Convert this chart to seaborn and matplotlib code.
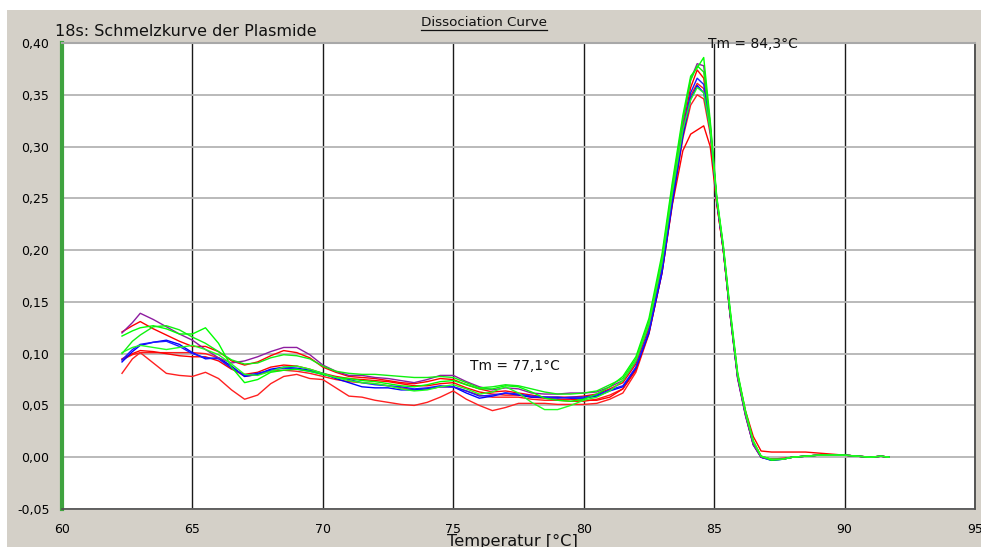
import matplotlib
matplotlib.use("Agg")
import matplotlib.pyplot as plt
from matplotlib.patches import Rectangle
from matplotlib.lines import Line2D
import numpy as np
import pandas as pd
import seaborn as sns

# Temperature grid of the melt run (°C)
temps_low = [62.3, 62.7, 63.0, 63.5, 64.0, 64.5, 65.0, 65.5, 66.0, 66.5, 67.0, 67.5,
             68.0, 68.5, 69.0, 69.5, 70.0, 70.5, 71.0, 71.5, 72.0, 72.5, 73.0, 73.5,
             74.0, 74.5, 75.0, 75.5, 76.0, 76.5, 77.0, 77.5, 78.0, 78.5, 79.0, 79.5,
             80.0, 80.5, 81.0]
temps_peak = [81.5, 82.0, 82.5, 83.0, 83.4, 83.8, 84.1, 84.35, 84.6, 84.85, 85.1, 85.35,
              85.6, 85.9, 86.2, 86.5, 86.8, 87.2, 87.6, 88.0, 88.5, 89.0, 89.5, 90.0,
              90.5, 91.0, 91.4, 91.7]

# -dF/dT per well
purple = [.120, .130, .139, .133, .126, .119, .113, .104, .096, .091, .093, .097, .102, .106,
          .106, .099, .089, .083, .079, .079, .077, .076, .074, .072, .075, .079, .079, .073,
          .068, .065, .067, .066, .062, .061, .061, .062, .062, .063, .068,
          .074, .092, .128, .188, .258, .322, .365, .380, .378, .320, .248, .201, .140, .076,
          .040, .012, .000, -.002, -.002, .000, .001, .002, .002, .002, .001, .000, .001, .000]
red1 = [.121, .127, .131, .124, .118, .112, .107, .107, .102, .093, .089, .092, .098, .103,
        .101, .096, .087, .082, .078, .077, .076, .074, .072, .071, .073, .076, .075, .070,
        .066, .063, .064, .062, .060, .058, .058, .058, .059, .061, .066,
        .072, .090, .125, .185, .254, .318, .357, .374, .366, .318, .248, .202, .142, .078,
        .042, .013, .000, -.002, -.002, .000, .001, .002, .002, .002, .001, .000, .001, .000]
green1 = [.117, .122, .125, .127, .124, .119, .119, .125, .110, .087, .072, .075, .082, .084,
          .085, .083, .080, .077, .076, .074, .073, .071, .069, .068, .070, .073, .074, .070,
          .066, .066, .069, .068, .063, .057, .055, .054, .056, .061, .068,
          .078, .097, .134, .196, .266, .330, .368, .376, .386, .325, .252, .205, .146, .082,
          .045, .016, .001, -.003, -.002, .000, .001, .002, .002, .002, .001, .000, .001, .000]
green2 = [.100, .112, .118, .126, .127, .123, .116, .110, .102, .094, .090, .091, .096, .099,
          .098, .095, .088, .083, .081, .080, .080, .079, .078, .077, .077, .078, .077, .072,
          .067, .068, .070, .069, .066, .063, .061, .061, .062, .064, .070,
          .076, .095, .131, .192, .262, .326, .364, .378, .372, .322, .250, .203, .143, .080,
          .044, .015, .001, -.002, -.002, .000, .001, .002, .002, .002, .001, .000, .001, .000]
green3 = [.101, .106, .108, .106, .104, .106, .108, .104, .099, .090, .080, .079, .083, .087,
          .088, .085, .081, .077, .074, .072, .071, .069, .066, .064, .065, .068, .070, .066,
          .061, .063, .068, .062, .053, .046, .046, .050, .055, .058, .064,
          .074, .093, .128, .188, .256, .316, .345, .357, .352, .316, .250, .204, .144, .080,
          .043, .015, .001, -.002, -.002, .000, .001, .002, .002, .002, .001, .000, .001, .000]
blue1 = [.092, .102, .108, .111, .113, .109, .101, .095, .096, .088, .078, .080, .085, .087,
         .086, .084, .081, .076, .072, .068, .067, .067, .065, .065, .066, .068, .068, .062,
         .057, .059, .062, .060, .058, .058, .058, .057, .057, .059, .064,
         .068, .086, .120, .178, .246, .310, .346, .359, .352, .316, .248, .202, .142, .078,
         .042, .013, .000, -.003, -.002, .000, .001, .002, .002, .002, .001, .000, .001, .000]
blue2 = [.094, .104, .109, .111, .112, .107, .100, .096, .095, .086, .079, .081, .084, .086,
         .085, .083, .080, .077, .075, .072, .070, .069, .068, .066, .067, .069, .068, .064,
         .059, .060, .062, .061, .059, .058, .057, .058, .058, .060, .065,
         .069, .087, .122, .181, .250, .314, .352, .366, .360, .318, .248, .201, .141, .077,
         .041, .012, .000, -.003, -.002, .000, .001, .002, .002, .002, .001, .000, .001, .000]
red2 = [.094, .099, .101, .101, .101, .101, .101, .100, .096, .086, .078, .080, .083, .084,
        .083, .081, .078, .075, .073, .072, .071, .069, .067, .065, .066, .068, .068, .064,
        .060, .058, .058, .058, .056, .055, .055, .054, .054, .056, .060,
        .066, .085, .121, .181, .250, .313, .349, .361, .356, .316, .246, .200, .140, .077,
        .041, .012, .000, -.002, -.002, .000, .001, .002, .002, .002, .001, .000, .001, .000]
red3 = [.081, .095, .101, .091, .081, .079, .078, .082, .076, .065, .056, .060, .071, .078,
        .080, .076, .075, .067, .059, .058, .055, .053, .051, .050, .053, .058, .064, .056,
        .050, .045, .048, .052, .052, .052, .051, .051, .051, .052, .056,
        .062, .082, .119, .178, .246, .308, .340, .350, .346, .312, .246, .200, .141, .078,
        .042, .014, .001, -.002, -.001, .000, .001, .002, .002, .002, .001, .000, .001, .000]
red4 = [.095, .100, .103, .102, .100, .098, .097, .097, .093, .085, .080, .082, .087, .089,
        .088, .085, .081, .078, .076, .075, .074, .073, .071, .069, .069, .071, .072, .067,
        .063, .061, .060, .060, .058, .057, .056, .056, .055, .055, .058,
        .066, .084, .120, .178, .244, .296, .312, .316, .320, .300, .245, .200, .141, .080,
        .045, .020, .006, .005, .005, .005, .005, .004, .003, .002, .001, .000, .001, .000]

well_names = ["red1", "red2", "red3", "red4", "blue1", "blue2", "purple",
              "green1", "green2", "green3"]
well_values = [red1, red2, red3, red4, blue1, blue2, purple, green1, green2, green3]
well_colors = {"red1": "#ff0000", "red2": "#ff1a1a", "red3": "#ff2020", "red4": "#ff0000",
               "blue1": "#0000ff", "blue2": "#1a1aff", "purple": "#8e1ca0",
               "green1": "#00ff00", "green2": "#10f010", "green3": "#20ff20"}

x_ticks = [60, 65, 70, 75, 80, 85, 90, 95]
x_tick_labels = ["60", "65", "70", "75", "80", "85", "90", "95"]
y_ticks = [-0.05, 0.00, 0.05, 0.10, 0.15, 0.20, 0.25, 0.30, 0.35, 0.40]
y_tick_labels = ["-0,05", "0,00", "0,05", "0,10", "0,15", "0,20", "0,25", "0,30", "0,35", "0,40"]

temps = temps_low + temps_peak
df = pd.concat([pd.DataFrame({"temp": temps, "value": vals, "well": name})
                for name, vals in zip(well_names, well_values)], ignore_index=True)

W, H = 981, 547
fig = plt.figure(figsize=(W / 100, H / 100), dpi=100)
fig.patch.set_facecolor("white")
fig.add_artist(Rectangle((7 / W, 0), 1 - 7 / W, 1 - 10 / H, transform=fig.transFigure,
                         facecolor="#d4d0c8", edgecolor="none", zorder=0))

ax = fig.add_axes([62 / W, 1 - 509 / H, (975 - 62) / W, (509 - 43) / H])
ax.set_facecolor("white")

sns.lineplot(data=df, x="temp", y="value", hue="well", hue_order=well_names,
             palette=well_colors, estimator=None, sort=False, units="well",
             linewidth=1.0, legend=False, ax=ax, zorder=3)

ax.set_xlim(60, 95)
ax.set_ylim(-0.05, 0.40)
ax.set_xticks(x_ticks)
ax.set_xticklabels(x_tick_labels)
ax.set_yticks(y_ticks)
ax.set_yticklabels(y_tick_labels)
ax.tick_params(axis="both", length=0, labelsize=9, colors="black")
ax.tick_params(axis="y", pad=9)
ax.tick_params(axis="x", pad=10)
ax.set_xlabel("")
ax.set_ylabel("")

ax.set_axisbelow(True)
ax.yaxis.grid(True, color="#b4b4b4", linewidth=1.3)
ax.xaxis.grid(True, color="#1a1a1a", linewidth=1.0)

ax.spines["left"].set_color("#3fa33f")
ax.spines["left"].set_linewidth(3)
ax.spines["bottom"].set_color("#505050")
ax.spines["bottom"].set_linewidth(1.2)
ax.spines["top"].set_color("#a8a8a8")
ax.spines["top"].set_linewidth(1.5)
ax.spines["right"].set_color("#404040")
ax.spines["right"].set_linewidth(1.2)

fig.text(55 / W, 1 - 32 / H, "18s: Schmelzkurve der Plasmide", fontsize=11.5,
         ha="left", va="center", color="#111111")
sub = fig.text(484 / W, 1 - 22 / H, "Dissociation Curve", fontsize=9.7,
               ha="center", va="center", color="#111111")
fig.text(512 / W, 1 - 541 / H, "Temperatur [°C]", fontsize=11.7,
         ha="center", va="center", color="#111111")

ax.text(75.64, 0.0878, "Tm = 77,1°C", fontsize=10, ha="left", va="center", color="#111111")
ax.text(84.76, 0.399, "Tm = 84,3°C", fontsize=10, ha="left", va="center", color="#111111")

# underline the subtitle
fig.canvas.draw()
bb = sub.get_window_extent(fig.canvas.get_renderer())
uy = (bb.y0 - 1) / H
fig.add_artist(Line2D([bb.x0 / W, bb.x1 / W], [uy, uy], transform=fig.transFigure,
                      color="#111111", linewidth=0.9))

fig.savefig("out.png", dpi=100, facecolor=fig.get_facecolor())
